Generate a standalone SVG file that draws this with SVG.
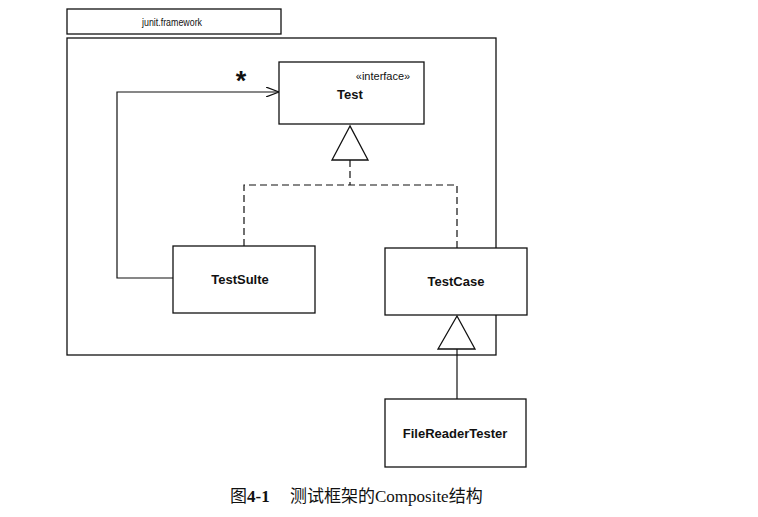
<svg xmlns="http://www.w3.org/2000/svg" width="758" height="517" viewBox="0 0 758 517">
<defs>
<style>
.box{fill:#fff;stroke:#111;stroke-width:1.3}
.ln{fill:none;stroke:#111;stroke-width:1.2}
.dash{fill:none;stroke:#111;stroke-width:1.2;stroke-dasharray:7,4}
.lbl{font-family:"Liberation Sans",Arial,sans-serif;font-weight:bold;font-size:13px;fill:#111;text-anchor:middle}
.sm{font-family:"Liberation Sans",Arial,sans-serif;font-size:11px;fill:#111}
</style>
<marker id="open" viewBox="0 0 14 10" refX="13" refY="5" markerWidth="14" markerHeight="10" markerUnits="userSpaceOnUse" orient="auto">
<path d="M0,0 L13,5 L0,10" fill="none" stroke="#111" stroke-width="1.2"/>
</marker>
</defs>
<rect width="758" height="517" fill="#fff"/>
<g id="package">
<rect class="box" x="67" y="9" width="214" height="25"/>
<rect class="box" x="67" y="38" width="429" height="317"/>
<text class="sm" x="142" y="26" font-size="10.5" textLength="60" lengthAdjust="spacingAndGlyphs">junit.framework</text>
</g>
<g id="connectors">
<polyline class="ln" points="173,278 117,278 117,92 279,92" marker-end="url(#open)"/>
<text x="241" y="90" font-family="Liberation Sans,Arial,sans-serif" font-size="27" font-weight="bold" fill="#111" text-anchor="middle">*</text>
<polygon class="box" points="350,126 332,160 368,160"/>
<polyline class="dash" points="350,160 350,185"/>
<polyline class="dash" points="244,246 244,185 457,185 457,248"/>
<polygon class="box" points="457,316 438,349 475,349"/>
<line class="ln" x1="457" y1="349" x2="457" y2="399"/>
</g>
<g id="Test">
<rect class="box" x="279" y="62" width="145" height="62"/>
<text class="sm" x="383" y="80" text-anchor="middle">«interface»</text>
<text class="lbl" x="350" y="99">Test</text>
</g>
<g id="TestSuite">
<rect class="box" x="173" y="246" width="142" height="67"/>
<text class="lbl" x="240" y="284" font-size="14">TestSulte</text>
</g>
<g id="TestCase">
<rect class="box" x="385" y="248" width="142" height="67"/>
<text class="lbl" x="456" y="286">TestCase</text>
</g>
<g id="FileReaderTester">
<rect class="box" x="385" y="399" width="141" height="68"/>
<text class="lbl" x="455" y="438">FileReaderTester</text>
</g>
<text x="230" y="502" font-family="Liberation Serif,'Noto Sans CJK SC',serif" font-size="17" fill="#111">图<tspan font-weight="bold">4-1</tspan><tspan x="290">测试框架的Composite结构</tspan></text>
</svg>
